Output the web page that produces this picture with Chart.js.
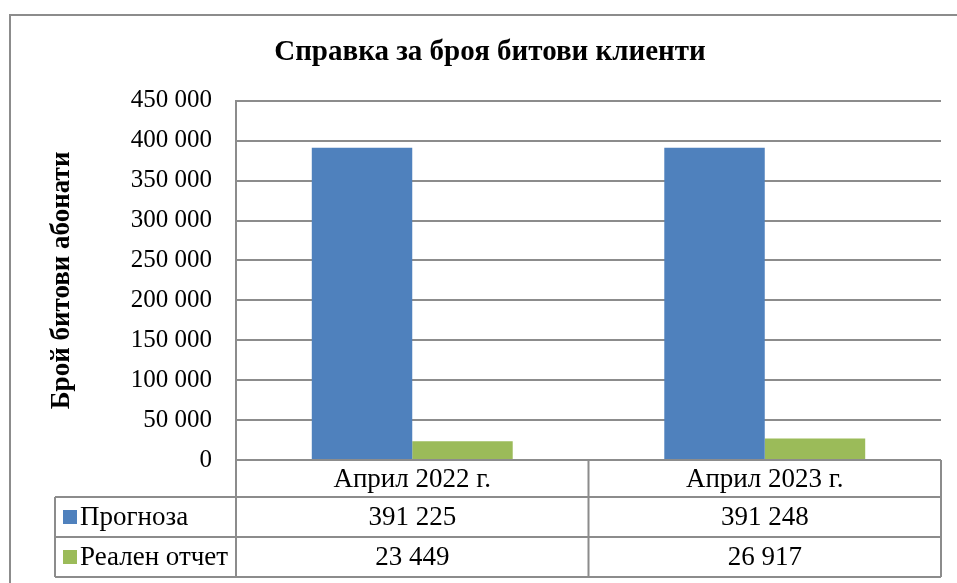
<!DOCTYPE html>
<html>
<head>
<meta charset="utf-8">
<script src="https://cdn.jsdelivr.net/npm/chart.js@4/dist/chart.umd.min.js"></script>
<style>
  html, body { margin: 0; padding: 0; background: #fff; }
  #wrap { width: 957px; height: 583px; }
</style>
</head>
<body>
<div id="wrap"><canvas id="clientsChart" width="957" height="583"></canvas></div>
<script>
// Данни
const categories = ['Април 2022 г.', 'Април 2023 г.'];
const seriesNames = ['Прогноза', 'Реален отчет'];
const forecast = [391225, 391248];
const actual = [23449, 26917];
const yTicks = [0, 50000, 100000, 150000, 200000, 250000, 300000, 350000, 400000, 450000];

const colors = ['#4f81bd', '#9bbb59'];
const lineGray = '#8c8c8c';
const serif = '"Liberation Serif", "Times New Roman", serif';

function fmt(n) {
    return String(n).replace(/\B(?=(\d{3})+(?!\d))/g, ' ');
}

// Рамка около графиката
const frame = {
    id: 'frame',
    beforeDraw(chart) {
        const ctx = chart.ctx;
        ctx.save();
        ctx.strokeStyle = lineGray;
        ctx.lineWidth = 2;
        ctx.strokeRect(10, 15, 1000, 1000);
        ctx.restore();
    }
};

// Таблица с данни под оста
const dataTable = {
    id: 'dataTable',
    afterDraw(chart) {
        const ctx = chart.ctx;
        const x = chart.scales.x;
        const area = chart.chartArea;
        const left = area.left, right = area.right;
        const mids = categories.map((c, i) => x.getPixelForValue(i));
        const edges = [left];
        for (let i = 1; i < mids.length; i++) edges.push((mids[i - 1] + mids[i]) / 2);
        edges.push(right);

        const top = area.bottom;
        const rows = [top, top + 37, top + 77, top + 117];
        const tableLeft = 55;

        ctx.save();
        ctx.strokeStyle = lineGray;
        ctx.lineWidth = 2;
        ctx.beginPath();
        // хоризонтални линии
        ctx.moveTo(left, rows[0]); ctx.lineTo(right, rows[0]);
        for (let r = 1; r < rows.length; r++) {
            ctx.moveTo(tableLeft, rows[r]); ctx.lineTo(right, rows[r]);
        }
        // вертикални линии
        edges.forEach(e => { ctx.moveTo(e, rows[0]); ctx.lineTo(e, rows[3]); });
        ctx.moveTo(tableLeft, rows[1]); ctx.lineTo(tableLeft, rows[3]);
        ctx.stroke();

        ctx.fillStyle = '#000';
        ctx.font = '27px ' + serif;
        ctx.textAlign = 'center';
        ctx.textBaseline = 'middle';
        categories.forEach((c, i) => ctx.fillText(c, mids[i], (rows[0] + rows[1]) / 2 + 1));

        const series = [forecast, actual];
        series.forEach((vals, s) => {
            const cy = (rows[s + 1] + rows[s + 2]) / 2 + 1;
            ctx.textAlign = 'center';
            ctx.fillStyle = '#000';
            vals.forEach((v, i) => ctx.fillText(fmt(v), mids[i], cy));
            ctx.fillStyle = colors[s];
            ctx.fillRect(63, cy - 8, 14, 14);
            ctx.fillStyle = '#000';
            ctx.textAlign = 'left';
            ctx.fillText(seriesNames[s], 80, cy);
        });
        ctx.restore();
    }
};

const ctx = document.getElementById('clientsChart').getContext('2d');
new Chart(ctx, {
    type: 'bar',
    data: {
        labels: categories,
        datasets: [
            { label: seriesNames[0], data: forecast, backgroundColor: colors[0] },
            { label: seriesNames[1], data: actual, backgroundColor: colors[1] }
        ]
    },
    options: {
        responsive: false,
        animation: false,
        layout: { padding: { top: 14, left: 39, right: 16, bottom: 123 } },
        datasets: { bar: { barPercentage: 1, categoryPercentage: 0.57 } },
        plugins: {
            legend: { display: false },
            tooltip: { enabled: false },
            title: {
                display: true,
                text: 'Справка за броя битови клиенти',
                color: '#000',
                font: { family: serif, size: 29, weight: 'bold' },
                padding: { top: 21, bottom: 31 }
            }
        },
        scales: {
            x: { display: false },
            y: {
                min: 0,
                max: 450000,
                afterFit(scale) { scale.width = 197; },
                afterBuildTicks(scale) { scale.ticks = yTicks.map(v => ({ value: v })); },
                ticks: {
                    color: '#000',
                    padding: 24,
                    font: { family: serif, size: 25 },
                    callback: v => fmt(v)
                },
                grid: { color: lineGray, lineWidth: 2, drawTicks: false },
                border: { color: lineGray, width: 2 },
                title: {
                    display: true,
                    text: 'Брой битови абонати',
                    color: '#000',
                    font: { family: serif, size: 27, weight: 'bold' },
                    padding: { top: 7, bottom: 0 }
                }
            }
        }
    },
    plugins: [frame, dataTable]
});
</script>
</body>
</html>
